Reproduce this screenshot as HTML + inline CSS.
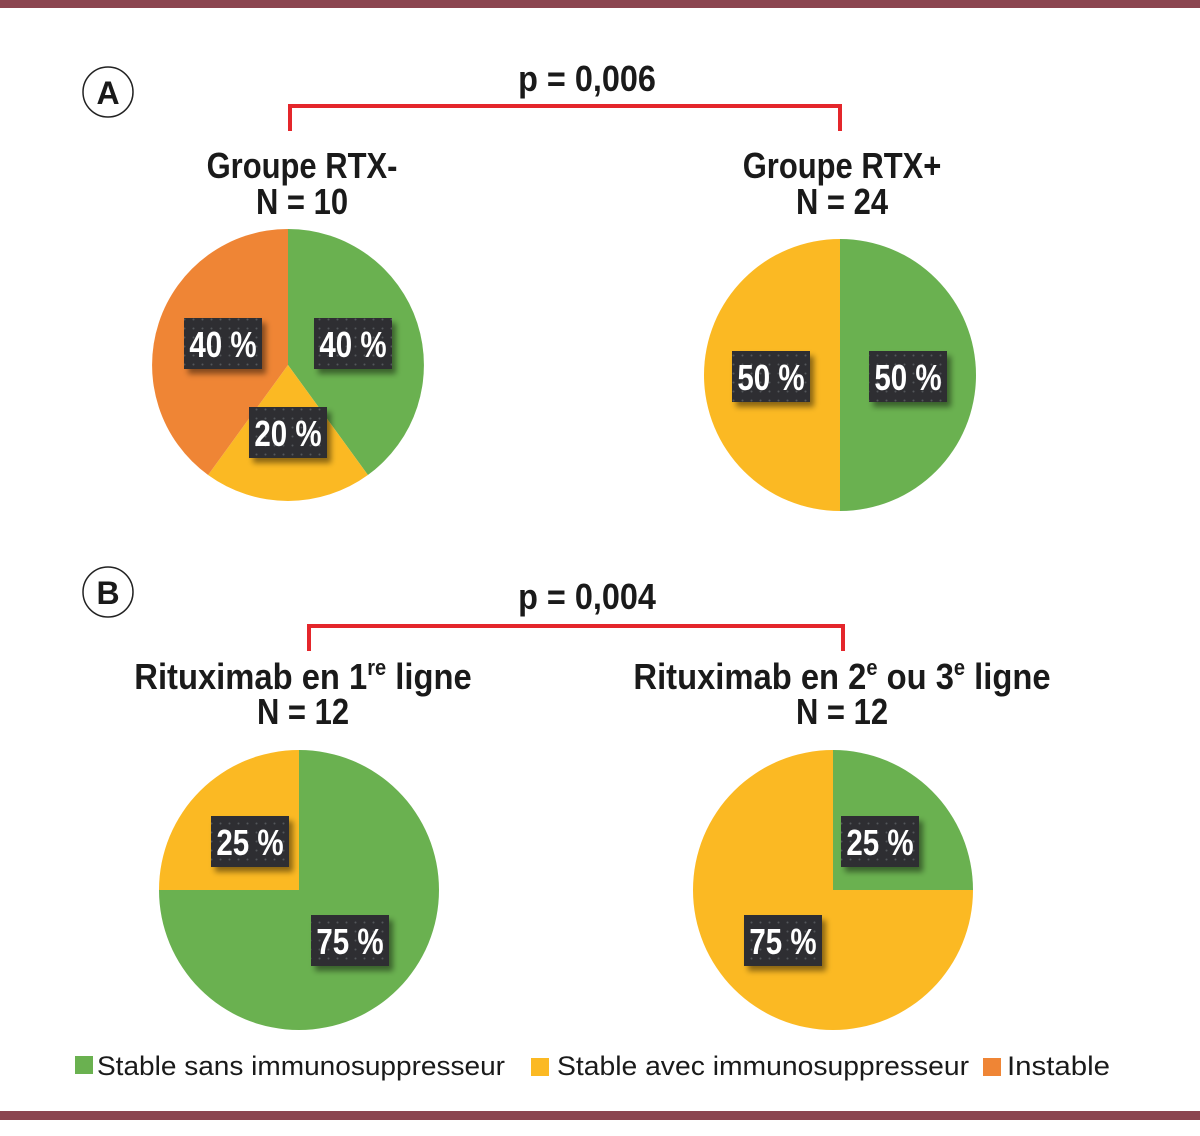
<!DOCTYPE html>
<html><head><meta charset="utf-8"><style>
html,body{margin:0;padding:0;background:#fff;}
svg{display:block}
.t{font-family:"Liberation Sans",sans-serif;font-weight:bold;fill:#1a1a1a;}
.l{font-family:"Liberation Sans",sans-serif;font-weight:bold;fill:#fff;font-size:36px;}
.g{font-family:"Liberation Sans",sans-serif;fill:#1a1a1a;font-size:27px;}
</style></head><body>
<svg width="1200" height="1136" viewBox="0 0 1200 1136" xmlns="http://www.w3.org/2000/svg">
<defs>
<filter id="sh" x="-20%" y="-20%" width="150%" height="160%"><feDropShadow dx="4" dy="5" stdDeviation="3" flood-color="#000" flood-opacity="0.45"/></filter>
<pattern id="dots" width="9" height="9" patternUnits="userSpaceOnUse"><rect width="9" height="9" fill="#2e2f31"/><circle cx="4.5" cy="4.5" r="1" fill="#55575a"/></pattern>
</defs>
<rect x="0" y="0" width="1200" height="8" fill="#8b4550"/>
<rect x="0" y="1111" width="1200" height="9" fill="#8b4550"/>

<!-- A -->
<circle cx="108" cy="92" r="25" fill="#fff" stroke="#222" stroke-width="1.5"/>
<text x="108" y="104" class="t" font-size="32" text-anchor="middle">A</text>
<g transform="translate(587,91) scale(0.9,1)"><text class="t" font-size="36" text-anchor="middle">p = 0,006</text></g>
<path d="M290 131 V106 H840 V131" fill="none" stroke="#e4262b" stroke-width="4"/>
<g transform="translate(302,178) scale(0.86,1)"><text class="t" font-size="36" text-anchor="middle">Groupe RTX-</text></g>
<g transform="translate(302,214) scale(0.86,1)"><text class="t" font-size="36" text-anchor="middle">N = 10</text></g>
<g transform="translate(842,178) scale(0.86,1)"><text class="t" font-size="36" text-anchor="middle">Groupe RTX+</text></g>
<g transform="translate(842,214) scale(0.86,1)"><text class="t" font-size="36" text-anchor="middle">N = 24</text></g>

<path d="M288 365 L288 229 A136 136 0 0 1 367.9 475 Z" fill="#6ab150"/>
<path d="M288 365 L367.9 475 A136 136 0 0 1 208.1 475 Z" fill="#fbb923"/>
<path d="M288 365 L208.1 475 A136 136 0 0 1 288 229 Z" fill="#ef8535"/>
<path d="M840 375 L840 239 A136 136 0 0 1 840 511 Z" fill="#6ab150"/>
<path d="M840 375 L840 511 A136 136 0 0 1 840 239 Z" fill="#fbb923"/>

<!-- B -->
<circle cx="108" cy="592" r="25" fill="#fff" stroke="#222" stroke-width="1.5"/>
<text x="108" y="604" class="t" font-size="32" text-anchor="middle">B</text>
<g transform="translate(587,609) scale(0.9,1)"><text class="t" font-size="36" text-anchor="middle">p = 0,004</text></g>
<path d="M309 651 V626 H843 V651" fill="none" stroke="#e4262b" stroke-width="4"/>
<g transform="translate(303,689) scale(0.91,1)"><text class="t" font-size="36" text-anchor="middle">Rituximab en 1<tspan font-size="22" dy="-14">re</tspan><tspan dy="14"> ligne</tspan></text></g>
<g transform="translate(303,724) scale(0.86,1)"><text class="t" font-size="36" text-anchor="middle">N = 12</text></g>
<g transform="translate(842,689) scale(0.91,1)"><text class="t" font-size="36" text-anchor="middle">Rituximab en 2<tspan font-size="22" dy="-14">e</tspan><tspan dy="14"> ou 3</tspan><tspan font-size="22" dy="-14">e</tspan><tspan dy="14"> ligne</tspan></text></g>
<g transform="translate(842,724) scale(0.86,1)"><text class="t" font-size="36" text-anchor="middle">N = 12</text></g>

<path d="M299 890 L299 750 A140 140 0 1 1 159 890 Z" fill="#6ab150"/>
<path d="M299 890 L159 890 A140 140 0 0 1 299 750 Z" fill="#fbb923"/>
<path d="M833 890 L833 750 A140 140 0 0 1 973 890 Z" fill="#6ab150"/>
<path d="M833 890 L973 890 A140 140 0 1 1 833 750 Z" fill="#fbb923"/>

<g filter="url(#sh)">
<rect x="184" y="318" width="78" height="51" fill="url(#dots)"/>
<rect x="314" y="318" width="78" height="51" fill="url(#dots)"/>
<rect x="249" y="407" width="78" height="51" fill="url(#dots)"/>
<rect x="732" y="351" width="78" height="51" fill="url(#dots)"/>
<rect x="869" y="351" width="78" height="51" fill="url(#dots)"/>
<rect x="211" y="816" width="78" height="51" fill="url(#dots)"/>
<rect x="311" y="915" width="78" height="51" fill="url(#dots)"/>
<rect x="841" y="816" width="78" height="51" fill="url(#dots)"/>
<rect x="744" y="915" width="78" height="51" fill="url(#dots)"/>
</g>
<g transform="translate(223,357) scale(0.82,1)"><text class="l" text-anchor="middle">40 %</text></g>
<g transform="translate(353,357) scale(0.82,1)"><text class="l" text-anchor="middle">40 %</text></g>
<g transform="translate(288,446) scale(0.82,1)"><text class="l" text-anchor="middle">20 %</text></g>
<g transform="translate(771,390) scale(0.82,1)"><text class="l" text-anchor="middle">50 %</text></g>
<g transform="translate(908,390) scale(0.82,1)"><text class="l" text-anchor="middle">50 %</text></g>
<g transform="translate(250,855) scale(0.82,1)"><text class="l" text-anchor="middle">25 %</text></g>
<g transform="translate(350,954) scale(0.82,1)"><text class="l" text-anchor="middle">75 %</text></g>
<g transform="translate(880,855) scale(0.82,1)"><text class="l" text-anchor="middle">25 %</text></g>
<g transform="translate(783,954) scale(0.82,1)"><text class="l" text-anchor="middle">75 %</text></g>

<rect x="75" y="1056" width="18" height="18" fill="#6ab150"/>
<text class="g" x="97" y="1075" textLength="408" lengthAdjust="spacingAndGlyphs">Stable sans immunosuppresseur</text>
<rect x="531" y="1058" width="18" height="18" fill="#fbb923"/>
<text class="g" x="557" y="1075" textLength="412" lengthAdjust="spacingAndGlyphs">Stable avec immunosuppresseur</text>
<rect x="983" y="1058" width="18" height="18" fill="#ef8535"/>
<text class="g" x="1007" y="1075" textLength="103" lengthAdjust="spacingAndGlyphs">Instable</text>
</svg>
</body></html>
